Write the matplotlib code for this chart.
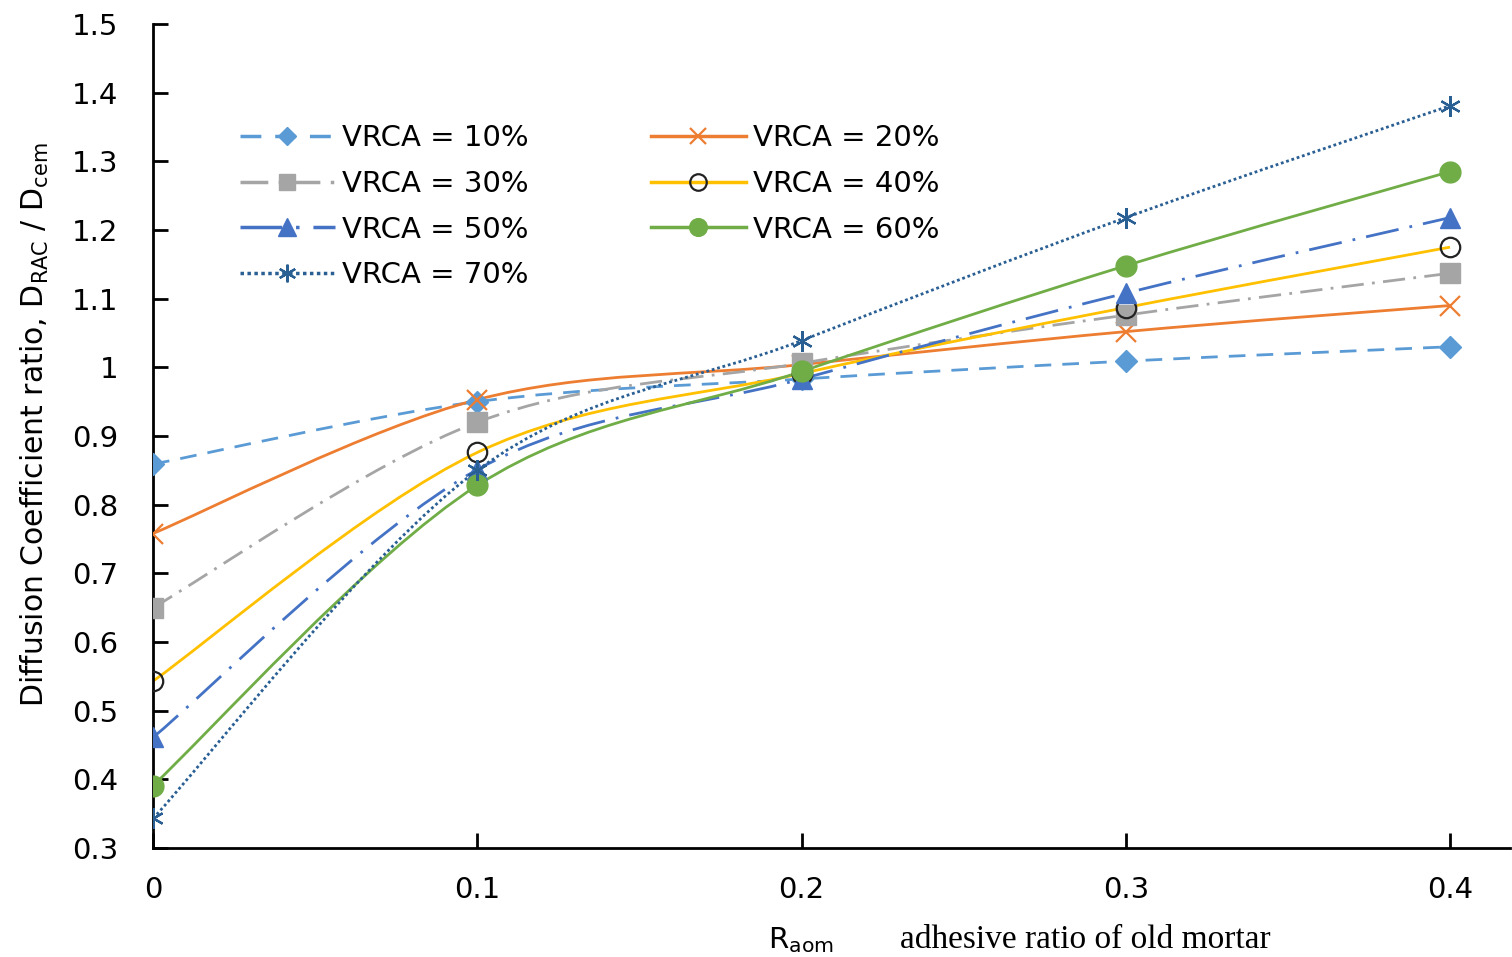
import numpy as np
import matplotlib
matplotlib.use('Agg')
from matplotlib import pyplot as plt
from matplotlib.path import Path
from matplotlib.patches import PathPatch
from matplotlib.lines import Line2D
from matplotlib.ticker import FuncFormatter

plt.rcParams['font.family'] = 'DejaVu Sans'
plt.rcParams['mathtext.fontset'] = 'dejavusans'

# Data
r_aom = [0.0, 0.1, 0.2, 0.3, 0.4]
vrca_10 = [0.859, 0.950, 0.983, 1.009, 1.030]
vrca_20 = [0.758, 0.953, 1.004, 1.052, 1.090]
vrca_30 = [0.650, 0.920, 1.006, 1.076, 1.137]
vrca_40 = [0.543, 0.876, 0.991, 1.087, 1.175]
vrca_50 = [0.461, 0.851, 0.983, 1.108, 1.218]
vrca_60 = [0.391, 0.828, 0.994, 1.148, 1.285]
vrca_70 = [0.343, 0.850, 1.039, 1.218, 1.381]
labels = ['VRCA = 10%', 'VRCA = 20%', 'VRCA = 30%', 'VRCA = 40%',
          'VRCA = 50%', 'VRCA = 60%', 'VRCA = 70%']


def smooth_path(x, y):
    # excel-like smoothed line: cubic bezier through the points
    n = len(x)
    verts = [(x[0], y[0])]
    codes = [Path.MOVETO]
    for i in range(n - 1):
        a = i - 1 if i > 0 else i
        b = i + 2 if i + 2 < n else i + 1
        c1 = (x[i] + (x[i+1] - x[a]) / 6., y[i] + (y[i+1] - y[a]) / 6.)
        c2 = (x[i+1] - (x[b] - x[i]) / 6., y[i+1] - (y[b] - y[i]) / 6.)
        verts += [c1, c2, (x[i+1], y[i+1])]
        codes += [Path.CURVE4] * 3
    return Path(verts, codes)


styles = [
    dict(color='#5B9BD5', ls=(0, (6, 4)), marker='D', ms=11, mfc='#5B9BD5', mec='#5B9BD5', mew=1),
    dict(color='#ED7D31', ls='-', marker='x', ms=14, mfc='none', mec='#ED7D31', mew=1.6),
    dict(color='#A5A5A5', ls=(0, (8, 3, 1, 3)), marker='s', ms=14, mfc='#A5A5A5', mec='#A5A5A5', mew=1),
    dict(color='#FFC000', ls='-', marker='o', ms=14, mfc='none', mec='#222222', mew=1.6),
    dict(color='#4472C4', ls=(0, (12, 4, 1, 4)), marker='^', ms=15, mfc='#4472C4', mec='#4472C4', mew=1),
    dict(color='#70AD47', ls='-', marker='o', ms=15, mfc='#70AD47', mec='#70AD47', mew=1),
    dict(color='#2A5F94', ls=(0, (1, 1)), marker=(6, 2, 0), ms=15, mfc='#2A5F94', mec='#2A5F94', mew=1.6),
]
series = [vrca_10, vrca_20, vrca_30, vrca_40, vrca_50, vrca_60, vrca_70]

fig = plt.figure(figsize=(15.12, 9.57), dpi=100)
ax = fig.add_axes([153/1512, 1 - 848/957, (1510-153)/1512, (848-24)/957])

handles = []
for vals, st, lab in zip(series, styles, labels):
    p = PathPatch(smooth_path(r_aom, vals), fill=False, edgecolor=st['color'],
                  lw=2, linestyle=st['ls'], zorder=2)
    ax.add_patch(p)
    ax.plot(r_aom, vals, linestyle='none', marker=st['marker'], ms=st['ms'],
            mfc=st['mfc'], mec=st['mec'], mew=st['mew'], zorder=3)
    handles.append(Line2D([], [], color=st['color'], lw=2.5, linestyle=st['ls'],
                          marker=st['marker'], ms=st['ms'] * 0.85, mfc=st['mfc'],
                          mec=st['mec'], mew=st['mew'], label=lab))

ax.set_xlim(0, 0.4185)
ax.set_ylim(0.3, 1.5)
ax.set_xticks(r_aom)
ax.set_yticks(np.round(np.arange(0.3, 1.51, 0.1), 1))
ax.xaxis.set_major_formatter(FuncFormatter(lambda v, p: '%g' % round(v, 2)))
ax.yaxis.set_major_formatter(FuncFormatter(lambda v, p: '%g' % round(v, 2)))
ax.tick_params(direction='in', length=11, width=2, labelsize=21)
ax.tick_params(axis='y', pad=25)
ax.tick_params(axis='x', pad=20)
for s in ['top', 'right']:
    ax.spines[s].set_visible(False)
for s in ['left', 'bottom']:
    ax.spines[s].set_linewidth(2)

order = [0, 2, 4, 6, 1, 3, 5]
leg = fig.legend([handles[i] for i in order], [labels[i] for i in order],
                 ncol=2, loc='upper left', bbox_to_anchor=(240/1512, 1 - 124/957),
                 frameon=False, fontsize=21, handlelength=3.25, handletextpad=0.24,
                 columnspacing=4.2, labelspacing=0.61, borderpad=0, borderaxespad=0)

fig.text(35/1512, 1 - 425/957, r'Diffusion Coefficient ratio, D$_\mathregular{RAC}$ / D$_\mathregular{cem}$',
         rotation=90, ha='center', va='center', fontsize=21.5)
fig.text(768/1512, 1 - 940/957, r'R$_\mathregular{aom}$', ha='left', va='center', fontsize=21)
fig.text(900/1512, 1 - 940/957, 'adhesive ratio of old mortar', ha='left', va='center',
         fontsize=24, family='Liberation Serif')

fig.savefig('out.png', dpi=100)
